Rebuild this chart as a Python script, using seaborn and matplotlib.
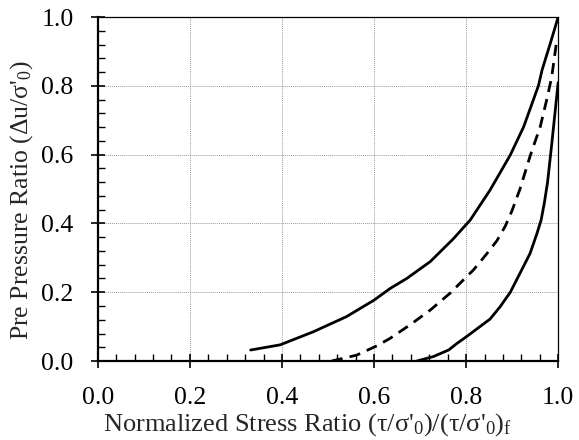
import numpy as np
import pandas as pd
import matplotlib
matplotlib.use("Agg")
import matplotlib.pyplot as plt
import seaborn as sns
from matplotlib.ticker import MultipleLocator, FormatStrFormatter

# curves (stress ratio, pore pressure ratio)
upper_x = [0.332, 0.396, 0.468, 0.54, 0.60, 0.635, 0.671, 0.722, 0.772, 0.809,
           0.852, 0.896, 0.925, 0.946, 0.957, 0.965, 0.983, 1.0]
upper_y = [0.032, 0.047, 0.085, 0.129, 0.177, 0.211, 0.24, 0.289, 0.355, 0.41,
           0.497, 0.599, 0.681, 0.759, 0.80, 0.846, 0.924, 1.0]

mid_x = [0.508, 0.562, 0.606, 0.635, 0.678, 0.722, 0.765, 0.816, 0.845, 0.867,
         0.885, 0.90, 0.917, 0.94, 0.961, 0.975, 0.986, 0.997]
mid_y = [0.0, 0.017, 0.044, 0.066, 0.105, 0.148, 0.197, 0.265, 0.312, 0.350,
         0.392, 0.438, 0.50, 0.60, 0.681, 0.759, 0.826, 0.933]

lower_x = [0.693, 0.729, 0.762, 0.78, 0.801, 0.83, 0.852, 0.874, 0.896, 0.917,
           0.939, 0.954, 0.963, 0.97, 0.977, 0.986, 0.993, 1.0]
lower_y = [0.0, 0.013, 0.032, 0.051, 0.071, 0.1, 0.122, 0.158, 0.2, 0.255,
           0.313, 0.371, 0.41, 0.46, 0.52, 0.63, 0.72, 0.81]

sns.set_style("white")
plt.rcParams['font.family'] = ['Liberation Serif', 'DejaVu Serif']
plt.rcParams['mathtext.fontset'] = 'custom'
plt.rcParams['mathtext.rm'] = 'Liberation Serif'
plt.rcParams['mathtext.it'] = 'Liberation Serif:italic'

fig = plt.figure(figsize=(5.79, 4.40), dpi=100)
ax = fig.add_axes([0.169, 0.1795, 0.795, 0.7815])

for xs, ys, dash in [(upper_x, upper_y, False), (mid_x, mid_y, True), (lower_x, lower_y, False)]:
    d = pd.DataFrame({"x": xs, "y": ys})
    sns.lineplot(data=d, x="x", y="y", ax=ax, color="black", lw=2.0,
                 estimator=None, sort=False,
                 linestyle=(0, (4, 2.6)) if dash else "-")

ax.set_xlim(0, 1)
ax.set_ylim(0, 1)
ax.xaxis.set_major_locator(MultipleLocator(0.2))
ax.yaxis.set_major_locator(MultipleLocator(0.2))
ax.xaxis.set_minor_locator(MultipleLocator(0.04))
ax.yaxis.set_minor_locator(MultipleLocator(0.04))
ax.xaxis.set_major_formatter(FormatStrFormatter("%.1f"))
ax.yaxis.set_major_formatter(FormatStrFormatter("%.1f"))
ax.grid(True, which="major", ls=(0, (1, 1)), color="0.6", lw=0.7)

ax.tick_params(which="both", bottom=True, left=True, top=False, right=False)
ax.tick_params(which="major", direction="inout", length=10, width=1.2,
               labelsize=18.5, colors="black")
ax.tick_params(which="minor", direction="in", length=5, width=1.0, colors="black")
ax.tick_params(axis="x", which="major", pad=13.5)
ax.tick_params(axis="y", which="major", pad=12.5)

for s in ["left", "bottom"]:
    ax.spines[s].set_linewidth(1.6)
for s in ["top", "right"]:
    ax.spines[s].set_linewidth(0.9)
for s in ax.spines.values():
    s.set_color("black")

ax.set_xlabel("Normalized Stress Ratio (τ/σ'$_0$)/(τ/σ'$_0$)$_\\mathrm{f}$",
              fontsize=19)
ax.set_ylabel("Pre Pressure Ratio (Δu/σ'$_0$)", fontsize=18.5)
ax.xaxis.set_label_coords(0.455, -0.146)
ax.yaxis.set_label_coords(-0.137, 0.468)

fig.savefig("out.png", dpi=100)
